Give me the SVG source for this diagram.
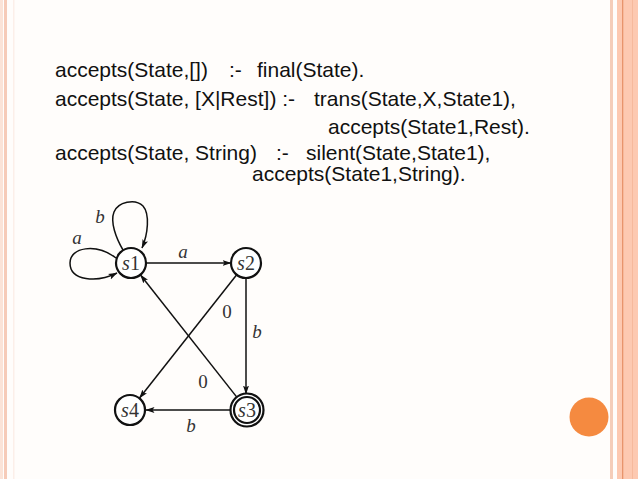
<svg xmlns="http://www.w3.org/2000/svg" width="638" height="479" viewBox="0 0 638 479">
<defs>
<style>
.code{font-family:"Liberation Sans",Arial,sans-serif;font-size:21px;fill:#111}
.node circle{fill:#fff;stroke:#111;stroke-width:2.2}
.nl{font-family:"Liberation Serif","Times New Roman",serif;font-size:20px;fill:#333;text-anchor:middle}
.it{font-style:italic}
.edge{fill:none;stroke:#111;stroke-width:1.5}
.el{font-family:"Liberation Serif","Times New Roman",serif;font-size:19px;font-style:italic;fill:#333;text-anchor:middle}
.zl{font-family:"Liberation Serif","Times New Roman",serif;font-size:19px;fill:#333;text-anchor:middle}
</style>
<marker id="ah" markerWidth="9" markerHeight="7" refX="8.5" refY="3.5" orient="auto" markerUnits="userSpaceOnUse">
<path d="M0,0.5 L9,3.5 L0,6.5 L2,3.5 z" fill="#111"/>
</marker>
</defs>
<rect width="638" height="479" fill="#fffdfb"/>
<g id="border">
<rect x="0" y="0" width="3" height="479" fill="#fbe3d7"/>
<rect x="4" y="0" width="3" height="479" fill="#f6cbb8"/>
<rect x="13" y="0" width="1.5" height="479" fill="#fcefe9"/>
<rect x="610" y="0" width="3" height="479" fill="#f5cdb9"/>
<rect x="617" y="0" width="21" height="479" fill="#fdc9b1"/>
<rect x="622" y="0" width="1.3" height="479" fill="#e8946c"/>
<rect x="632" y="0" width="1" height="479" fill="#f6b99c"/>
<circle cx="589" cy="417" r="19.5" fill="#f58a40"/>
</g>
<g id="text">
<text class="code" x="55" y="77">accepts(State,[])</text>
<text class="code" x="229" y="77">:-</text>
<text class="code" x="257" y="77">final(State).</text>
<text class="code" x="55" y="106">accepts(State, [X|Rest]) :-</text>
<text class="code" x="314" y="106">trans(State,X,State1),</text>
<text class="code" x="328" y="134">accepts(State1,Rest).</text>
<text class="code" x="55" y="160">accepts(State, String)</text>
<text class="code" x="276" y="160">:-</text>
<text class="code" x="306" y="160">silent(State,State1),</text>
<text class="code" x="252" y="181">accepts(State1,String).</text>
</g>
<g id="connectors">
<path class="edge" d="M146,263 L231,263" marker-end="url(#ah)"/>
<text class="el" x="183" y="258">a</text>
<path class="edge" d="M246,278 L246,394" marker-end="url(#ah)"/>
<text class="el" x="257" y="338">b</text>
<path class="edge" d="M231,410 L146,410" marker-end="url(#ah)"/>
<text class="el" x="191" y="432">b</text>
<path class="edge" d="M236.7,274.8 L139.5,398" marker-end="url(#ah)"/>
<text class="zl" x="227" y="318">0</text>
<path class="edge" d="M237,397.4 L140.5,275" marker-end="url(#ah)"/>
<text class="zl" x="203" y="388">0</text>
<path class="edge" d="M123,250 C116,238 110,222 114,212 C118,202 135,198 143,206 C150,214 148,234 142,248" marker-end="url(#ah)"/>
<text class="el" x="100" y="223">b</text>
<path class="edge" d="M116,258 C96,243 70,247 70,263 C70,281 97,283 117,273" marker-end="url(#ah)"/>
<text class="el" x="77" y="244">a</text>
</g>
<g id="s1" class="node"><circle cx="131" cy="263" r="15"/><text class="nl" x="131" y="270"><tspan class="it">s</tspan>1</text></g>
<g id="s2" class="node"><circle cx="246" cy="263" r="15"/><text class="nl" x="246" y="270"><tspan class="it">s</tspan>2</text></g>
<g id="s3" class="node"><circle cx="247" cy="410" r="16.5" stroke-width="1.4"/><circle cx="247" cy="410" r="13" stroke-width="1.4"/><text class="nl" x="247" y="417"><tspan class="it">s</tspan>3</text></g>
<g id="s4" class="node"><circle cx="130" cy="410" r="15"/><text class="nl" x="130" y="417"><tspan class="it">s</tspan>4</text></g>
</svg>
